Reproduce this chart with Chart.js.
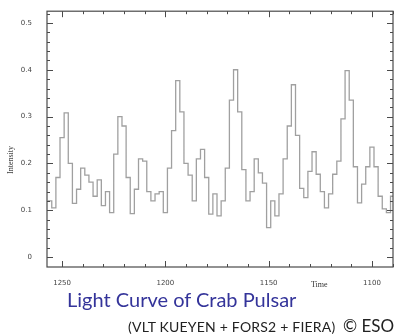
<!DOCTYPE html>
<html lang="en">
  <head>
    <meta charset="UTF-8" />
    <title>Light Curve of Crab Pulsar</title>
    <script src="https://cdn.jsdelivr.net/npm/chart.js"></script>
    <style>
      body { margin: 0; background: #fff; }
      .painel { position: relative; width: 400px; height: 334px; overflow: hidden; }
      .grafico { position: absolute; left: 0; top: 0; width: 400px; height: 334px; }
      .eixo { position: absolute; font-family: "Liberation Serif", serif; font-size: 8px; color: #333; line-height: 1; white-space: nowrap; }
      #rotulo_y { left: 11px; top: 160px; transform: translate(-50%, -50%) rotate(-90deg); }
      #rotulo_x { left: 311px; top: 281px; }
      #titulo { position: absolute; left: 67px; top: 289px; font-family: Lato, sans-serif; font-size: 20px; line-height: 1; color: #34349a; white-space: nowrap; }
      #credito { position: absolute; left: 128px; top: 320px; font-family: Lato, sans-serif; font-size: 14px; letter-spacing: 0.2px; line-height: 1; color: #222; white-space: nowrap; }
      #eso { position: absolute; left: 343px; top: 317px; font-family: Lato, sans-serif; font-size: 17px; line-height: 1; color: #222; white-space: nowrap; }
    </style>
  </head>
  <body>
    <div class="painel">
      <div class="grafico">
        <canvas id="myCanvas"></canvas>
      </div>
      <div class="eixo" id="rotulo_y">Intensity</div>
      <div class="eixo" id="rotulo_x">Time</div>
      <div id="titulo">Light Curve of Crab Pulsar</div>
      <div id="credito">(VLT KUEYEN + FORS2 + FIERA)</div>
      <div id="eso">© ESO</div>
    </div>
  </body>
</html>
<script>
  // bins of 2 time units, start of each bin (time runs right to left)
  const binStart = 1257;
  const binWidth = 2;
  const intensity = [
    0.12, 0.105, 0.17, 0.255, 0.308, 0.2, 0.115, 0.145, 0.19, 0.175,
    0.16, 0.13, 0.165, 0.11, 0.14, 0.095, 0.22, 0.3, 0.28, 0.17,
    0.093, 0.145, 0.21, 0.205, 0.14, 0.12, 0.135, 0.14, 0.095, 0.19,
    0.27, 0.377, 0.31, 0.2, 0.175, 0.12, 0.21, 0.23, 0.17, 0.092,
    0.135, 0.088, 0.12, 0.19, 0.335, 0.4, 0.31, 0.187, 0.12, 0.14,
    0.21, 0.18, 0.158, 0.063, 0.12, 0.088, 0.135, 0.21, 0.28, 0.368,
    0.26, 0.147, 0.127, 0.183, 0.225, 0.177, 0.14, 0.105, 0.135, 0.177,
    0.205, 0.295, 0.398, 0.335, 0.193, 0.116, 0.156, 0.193, 0.235, 0.193,
    0.13, 0.103, 0.095, 0.13,
  ];

  const xTicks = [1250, 1200, 1150, 1100];
  const yTicks = [0, 0.1, 0.2, 0.3, 0.4, 0.5];
  const xMinor = 10;
  const yMinor = 0.02;
  const xMin = 1089.8;
  const xMax = 1257.3;
  const yMin = -0.021;
  const yMax = 0.525;

  // pontos do degrau: inicio de cada bin + fim do ultimo
  let pontos = [];
  for (let i = 0; i < intensity.length; i++) {
    pontos.push({ x: binStart - i * binWidth, y: intensity[i] });
  }
  pontos.push({ x: binStart - intensity.length * binWidth, y: intensity[intensity.length - 1] });

  // moldura com ticks para dentro, nos quatro lados
  const moldura = {
    id: "moldura",
    afterDraw(chart) {
      const ctx = chart.ctx;
      const a = chart.chartArea;
      const x = chart.scales.x;
      const y = chart.scales.y;
      ctx.save();
      ctx.strokeStyle = "#4a4a4a";
      ctx.lineWidth = 1.2;
      ctx.strokeRect(a.left, a.top, a.right - a.left, a.bottom - a.top);
      ctx.lineWidth = 1;
      ctx.beginPath();
      for (let t = 1250; t >= xMin; t -= xMinor) {
        const px = Math.round(x.getPixelForValue(t)) + 0.5;
        const len = t % 50 === 0 ? 6 : 3;
        ctx.moveTo(px, a.bottom);
        ctx.lineTo(px, a.bottom - len);
        ctx.moveTo(px, a.top);
        ctx.lineTo(px, a.top + len);
      }
      for (let k = 0; k * yMinor <= yMax; k++) {
        const py = Math.round(y.getPixelForValue(k * yMinor)) + 0.5;
        const len = k % 5 === 0 ? 6 : 3;
        ctx.moveTo(a.left, py);
        ctx.lineTo(a.left + len, py);
        ctx.moveTo(a.right, py);
        ctx.lineTo(a.right - len, py);
      }
      ctx.stroke();
      ctx.restore();
    },
  };

  const config = {
    type: "line",
    data: {
      datasets: [
        {
          label: "Intensity",
          data: pontos,
          stepped: true,
          borderColor: "#a0a0a0",
          borderWidth: 1.3,
          pointRadius: 0,
          fill: false,
        },
      ],
    },
    options: {
      animation: false,
      responsive: true,
      maintainAspectRatio: false,
      layout: { padding: { top: 7, right: 7, left: 0, bottom: 0 } },
      plugins: {
        legend: { display: false },
        tooltip: { enabled: false },
      },
      scales: {
        x: {
          type: "linear",
          reverse: true,
          min: xMin,
          max: xMax,
          afterFit(s) { s.height = 67; },
          afterBuildTicks(s) { s.ticks = xTicks.map((v) => ({ value: v })); },
          ticks: {
            font: { family: "DejaVu Sans", size: 7 },
            color: "#444",
            padding: 4,
            maxRotation: 0,
            autoSkip: false,
            callback: (v) => String(v),
          },
          grid: { display: false },
          border: { display: false },
        },
        y: {
          min: yMin,
          max: yMax,
          afterFit(s) { s.width = 47; },
          afterBuildTicks(s) { s.ticks = yTicks.map((v) => ({ value: v })); },
          ticks: {
            font: { family: "DejaVu Sans", size: 7 },
            color: "#444",
            padding: 7,
            autoSkip: false,
            callback: (v) => (v === 0 ? "0" : v.toFixed(1)),
          },
          grid: { display: false },
          border: { display: false },
        },
      },
    },
    plugins: [moldura],
  };

  new Chart(document.getElementById("myCanvas"), config);
</script>
